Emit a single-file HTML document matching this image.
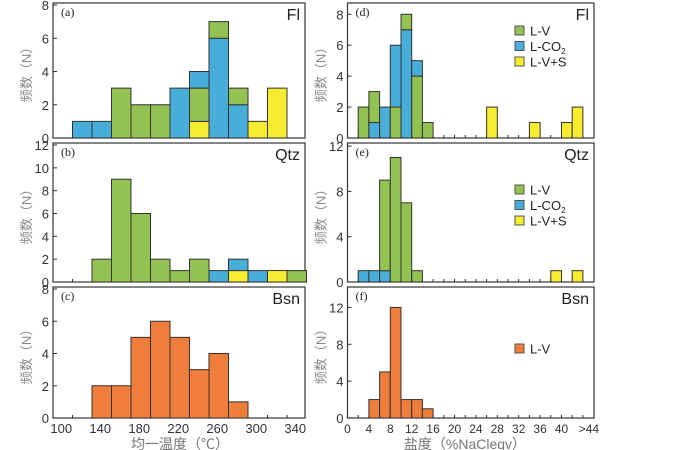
<!DOCTYPE html>
<html><head><meta charset="utf-8"><style>
body{margin:0;background:#fff;}
svg{display:block;font-family:"Liberation Sans","Noto Sans CJK SC",sans-serif;}
</style></head><body>
<svg id="c" width="700" height="450" viewBox="0 0 700 450" xmlns="http://www.w3.org/2000/svg"></svg>
<script>
// ---- data ----
// left: homogenization temperature, 13 bins of 20°C starting at 90
const tempBinStart = 90;
const tempBinWidth = 20;
const aGreenLow  = [0,0,0,3,2,2,0,2,0,0,0,0,0];
const aBlue   = [0,1,1,0,0,0,3,1,6,2,0,0,0];
const aGreenHigh = [0,0,0,0,0,0,0,0,1,1,0,0,0];
const aYellow = [0,0,0,0,0,0,0,1,0,0,1,3,0];
const bGreen  = [0,0,2,9,6,2,1,2,0,0,0,0,1];
const bBlue   = [0,0,0,0,0,0,0,0,1,1,1,0,0];
const bYellow = [0,0,0,0,0,0,0,0,0,1,0,1,0];
const cOrange = [0,0,2,2,5,6,5,3,4,1,0,0,0];
const tempTicks = [100,140,180,220,260,300,340];
// right: salinity, bins of 2 wt% starting at 0
const salBinWidth = 2;
const dGreenLow  = [0,2,0,0,2,0,4,1,0,0,0,0,0,0,0,0,0,0,0,0,0,0];
const dBlue      = [0,0,1,2,4,7,1,0,0,0,0,0,0,0,0,0,0,0,0,0,0,0];
const dGreenHigh = [0,0,2,0,0,1,0,0,0,0,0,0,0,0,0,0,0,0,0,0,0,0];
const dYellow = [0,0,0,0,0,0,0,0,0,0,0,0,0,2,0,0,0,1,0,0,1,2];
const eGreen  = [0,0,0,8,11,7,1,0,0,0,0,0,0,0,0,0,0,0,0,0,0,0];
const eBlue   = [0,1,1,1,0,0,0,0,0,0,0,0,0,0,0,0,0,0,0,0,0,0];
const eYellow = [0,0,0,0,0,0,0,0,0,0,0,0,0,0,0,0,0,0,0,1,0,1];
const fOrange = [0,0,2,5,12,2,2,1,0,0,0,0,0,0,0,0,0,0,0,0,0,0];
const salTicks = ["0","4","8","12","16","20","24","28","32","36","40",">44"];
const salTickVals = [0,4,8,12,16,20,24,28,32,36,40,44];

const C={green:"#93c152",blue:"#49add9",yellow:"#f8ec30",orange:"#ef7d3b"};
const svg=document.getElementById('c');
const NS="http://www.w3.org/2000/svg";
function mk(t,a,p){const e=document.createElementNS(NS,t);for(const k in a)e.setAttribute(k,a[k]);(p||svg).appendChild(e);return e;}
const xT=v=>53+(v-tempBinStart)*19.5/20;
const xS=v=>347.5+v*5.35;

function panel(id,L,R,top,base,ymax,yticks,xs,binStart,binW,series,label,tag){
  const g=mk('g',{});
  
  
  const y=v=>base-(base-top)*v/ymax;
  mk('rect',{x:L,y:top-2,width:R-L,height:base-top+2,fill:'none',stroke:'#333','stroke-width':1.2},g);
  const n=series[0].vals.length;
  for(let i=0;i<n;i++){
    let acc=0;
    series.forEach(s=>{
      const v=s.vals[i]; if(!v) return;
      const x0=xs(binStart+i*binW), x1=xs(binStart+(i+1)*binW);
      const r=mk('rect',{x:x0,y:y(acc+v),width:x1-x0,height:y(acc)-y(acc+v),fill:s.color,stroke:'#333','stroke-width':1},g);
      
      
      acc+=v;
    });
  }
  yticks.forEach(t=>{
    mk('line',{x1:L,x2:L+4,y1:y(t),y2:y(t),stroke:'#333'},g);
    const tx=mk('text',{x:L-4,y:y(t)+5,'text-anchor':'end','font-size':13,fill:'#333'},g);
    tx.textContent=t;
  });
  for(let i=0;i<=n;i++){const xx=xs(binStart+i*binW);if(xx>L&&xx<R)mk('line',{x1:xx,x2:xx,y1:base,y2:base-3,stroke:'#333'},g);}
  const lb=mk('text',{x:L+8,y:top+11,'font-size':12,'font-family':'Liberation Serif,serif',fill:'#222'},g);lb.textContent=label;
  const tg=mk('text',{x:R-5,y:top+15,'font-size':16,'text-anchor':'end',fill:'#222'},g);tg.textContent=tag;
  const yt=mk('text',{transform:`translate(${L-22},${(top+base)/2}) rotate(-90)`,'text-anchor':'middle','font-size':13,fill:'#888'},g);
  yt.textContent='频数（N）';
  return g;
}
panel('a',53,305,5,138,8,[0,2,4,6,8],xT,tempBinStart,tempBinWidth,[{name:'yellow',vals:aYellow,color:C.yellow},{name:'green-low',vals:aGreenLow,color:C.green},{name:'blue',vals:aBlue,color:C.blue},{name:'green-high',vals:aGreenHigh,color:C.green}],'(a)','Fl');
panel('b',53,305,145,282,12,[0,2,4,6,8,10,12],xT,tempBinStart,tempBinWidth,[{name:'yellow',vals:bYellow,color:C.yellow},{name:'blue',vals:bBlue,color:C.blue},{name:'green',vals:bGreen,color:C.green}],'(b)','Qtz');
panel('c',53,305,289,418,8,[0,2,4,6,8],xT,tempBinStart,tempBinWidth,[{name:'orange',vals:cOrange,color:C.orange}],'(c)','Bsn');
panel('d',347.5,594,5,138,8.6,[0,2,4,6,8],xS,0,salBinWidth,[{name:'yellow',vals:dYellow,color:C.yellow},{name:'green-low',vals:dGreenLow,color:C.green},{name:'blue',vals:dBlue,color:C.blue},{name:'green-high',vals:dGreenHigh,color:C.green}],'(d)','Fl');
panel('e',347.5,594,145,282,12.1,[0,4,8,12],xS,0,salBinWidth,[{name:'yellow',vals:eYellow,color:C.yellow},{name:'blue',vals:eBlue,color:C.blue},{name:'green',vals:eGreen,color:C.green}],'(e)','Qtz');
panel('f',347.5,594,289,418,14,[0,4,8,12],xS,0,salBinWidth,[{name:'orange',vals:fOrange,color:C.orange}],'(f)','Bsn');

tempTicks.forEach(t=>{const e=mk('text',{x:xT(t)-1.5,y:433,'text-anchor':'middle','font-size':13,fill:'#333'});e.textContent=t;});
salTicks.forEach((t,i)=>{const e=mk('text',{x:xS(salTickVals[i])+(i==salTicks.length-1?6:0),y:433,'text-anchor':'middle','font-size':12,fill:'#333'});e.textContent=t;});
const xa=mk('text',{x:180,y:449,'text-anchor':'middle','font-size':14,fill:'#777'});xa.textContent='均一温度（℃）';

const xb=mk('text',{x:465,y:449,'text-anchor':'middle','font-size':14,fill:'#777'});xb.textContent='盐度（%NaCleqv）';


function legend(y0,items){
  items.forEach((it,i)=>{
    const yy=y0+i*15.5;
    const r=mk('rect',{x:515,y:yy-5,width:9,height:9,fill:it[1],stroke:'#555'});
    
    const t=mk('text',{x:530,y:yy+4.5,'font-size':13,fill:'#222'});
    
    if(it[0]==='L-CO2'){t.textContent='L-CO';const s=mk('tspan',{'font-size':8,dy:3},t);s.textContent='2';}
    else t.textContent=it[0];
  });
}
legend(31,[['L-V',C.green],['L-CO2',C.blue],['L-V+S',C.yellow]]);
legend(190,[['L-V',C.green],['L-CO2',C.blue],['L-V+S',C.yellow]]);
legend(349,[['L-V',C.orange]]);
</script>
</body></html>
